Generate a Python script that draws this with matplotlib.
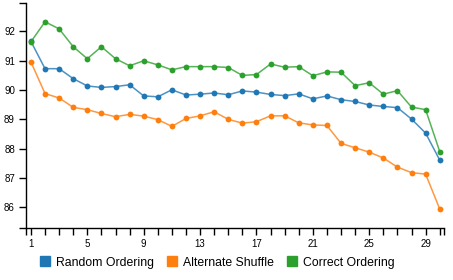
import matplotlib.pyplot as plt
from matplotlib.lines import Line2D

# Donnees
epochs = list(range(1, 31))
random_ordering = [91.66, 90.73, 90.73, 90.39, 90.14, 90.09, 90.12, 90.18, 89.80, 89.77,
                   90.01, 89.83, 89.86, 89.90, 89.84, 89.97, 89.93, 89.85, 89.81, 89.87,
                   89.70, 89.80, 89.67, 89.61, 89.49, 89.44, 89.40, 89.01, 88.53, 87.61]
alternate_shuffle = [90.96, 89.88, 89.73, 89.41, 89.33, 89.20, 89.09, 89.17, 89.11, 88.99,
                     88.76, 89.03, 89.12, 89.26, 89.00, 88.87, 88.92, 89.12, 89.12, 88.88,
                     88.81, 88.79, 88.18, 88.03, 87.88, 87.68, 87.37, 87.18, 87.13, 85.94]
correct_ordering = [91.65, 92.33, 92.09, 91.48, 91.07, 91.48, 91.07, 90.83, 91.00, 90.86,
                    90.69, 90.80, 90.80, 90.80, 90.77, 90.50, 90.53, 90.89, 90.78, 90.80,
                    90.49, 90.62, 90.61, 90.15, 90.25, 89.86, 89.98, 89.42, 89.33, 87.90]
series = [("Random Ordering", random_ordering, "#1f77b4"),
          ("Alternate Shuffle", alternate_shuffle, "#ff7f0e"),
          ("Correct Ordering", correct_ordering, "#2ca02c")]
x_labels = [1, 5, 9, 13, 17, 21, 25, 29]
y_labels = [86, 87, 88, 89, 90, 91, 92]

plt.rcParams['font.family'] = ['Liberation Sans', 'DejaVu Sans']

fig = plt.figure(figsize=(4.53, 2.8), dpi=100)
ax = fig.add_axes([0.0574, 0.1857, 0.9226, 0.8033])

for nom, vals, col in series:
    ax.plot(epochs, vals, color=col, lw=1.1, alpha=0.8)
    ax.plot(epochs, vals, 'o', color=col, ms=4.2, mec='none')

xmin, xmax = 0.65, 30.3
ymin, ymax = 85.29, 92.97
ax.set_xlim(xmin, xmax)
ax.set_ylim(ymin, ymax)

xt = [xmin] + epochs + [xmax]
ax.set_xticks(xt)
ax.set_xticklabels([str(e) if e in x_labels else "" for e in xt])
yt = [ymin] + y_labels + [ymax]
ax.set_yticks(yt)
ax.set_yticklabels([""] + [str(v) for v in y_labels] + [""])
ax.tick_params(axis='both', length=5, width=1, labelsize=7, pad=3, colors='black')

for s in ['top', 'right']:
    ax.spines[s].set_visible(False)
for s in ['left', 'bottom']:
    ax.spines[s].set_linewidth(1)
    ax.spines[s].set_color('black')

handles = [Line2D([], [], marker='s', ls='none', color=c, ms=7.5) for _, _, c in series]
fig.legend(handles, [n for n, _, _ in series], loc='center', bbox_to_anchor=(0.48, 0.062),
           ncol=3, frameon=False, fontsize=8.8, handlelength=0.8, handletextpad=0.5,
           columnspacing=1.1)

fig.savefig("out.png", dpi=100)
